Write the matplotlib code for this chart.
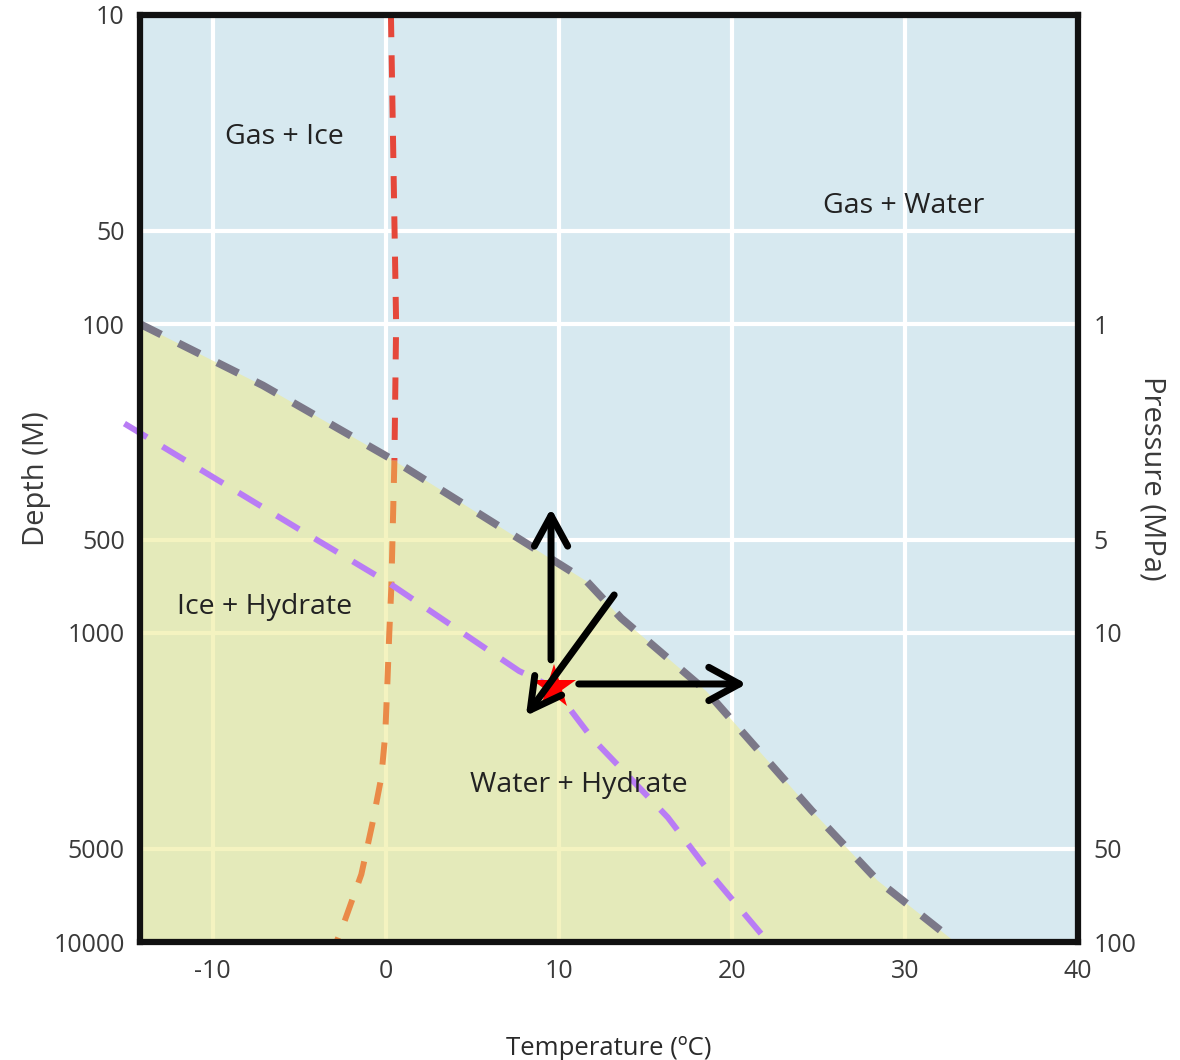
import numpy as np
import matplotlib
matplotlib.use('Agg')
import matplotlib.pyplot as plt

plt.rcParams['font.family'] = ['Open Sans', 'DejaVu Sans']
plt.rcParams['lines.scale_dashes'] = False
plt.rcParams['axes.unicode_minus'] = False

# Hydrate stability boundary (temperature C, depth m)
boundary_temp = [-14.2, -7.1, 0.5, 11.6, 13.6, 18.5, 24.6, 28.4, 32.9]
boundary_depth = [100, 158, 277, 679, 895, 1538, 3750, 6310, 10000]

# Ice melting line: above boundary (red) and below (orange)
ice_temp_upper = [0.3, 0.6, 0.5]
ice_depth_upper = [10, 100, 277]
ice_temp_lower = [0.5, 0.32, 0.2, 0.09, -0.03, -0.26, -0.78, -1.41, -2.56, -2.85]
ice_depth_lower = [277, 716, 1014, 1472, 2133, 2937, 4159, 6040, 9140, 10000]

# Geotherm (purple)
geo_temp = [-15.1, -4.8, 0.2, 7.7, 9.7, 11.9, 16.3, 18.8, 21.7, 22.0]
geo_depth = [210, 469, 690, 1327, 1503, 2183, 3953, 6040, 9420, 10000]

# Current state point and shift arrows (start, end)
star_temp, star_depth = 9.7, 1490
arrows = [
    ((9.55, 1222), (9.55, 395)),
    ((11.15, 1462), (20.85, 1462)),
    ((13.2, 753), (8.1, 1854)),
]

region_labels = ['Gas + Ice', 'Gas + Water', 'Ice + Hydrate', 'Water + Hydrate']
region_temp = [-5.85, 29.9, -7.0, 11.15]
region_depth = [24.8, 41.6, 824, 3094]

x_ticks = [-10, 0, 10, 20, 30, 40]
depth_ticks = [10, 50, 100, 500, 1000, 5000, 10000]
pressure_ticks = [1, 5, 10, 50, 100]

BLUE = '#d7e9f0'
YELLOW = '#edeb96'
TICK_COLOR = '#3a3a3a'

fig = plt.figure(figsize=(11.8, 10.6), dpi=100)
ax = fig.add_axes([140 / 1180, 1 - 942 / 1060, (1078 - 140) / 1180, (942 - 15) / 1060])
ax.set_facecolor(BLUE)
ax.set_yscale('log')
ax.set_xlim(-14.2, 40)
ax.set_ylim(10000, 10)

# grid
ax.set_axisbelow(True)
for t in x_ticks[:-1]:
    ax.axvline(t, color='white', lw=3, zorder=0.5)
for d in depth_ticks[1:-1]:
    ax.axhline(d, color='white', lw=3, zorder=0.5)

# hydrate stability field
ax.fill_betweenx(boundary_depth, -14.2, boundary_temp, color=YELLOW, alpha=0.6,
                 lw=0, zorder=1)

ax.plot(ice_temp_upper, ice_depth_upper, color='#e5473a', lw=4.3,
        dashes=(16, 13), zorder=2)
ax.plot(ice_temp_lower, ice_depth_lower, color='#ea8a48', lw=4.3,
        dashes=(16, 13), zorder=2)
ax.plot(boundary_temp, boundary_depth, color='#7b7888', lw=5.5,
        dashes=(17, 14), zorder=3)
ax.plot(geo_temp, geo_depth, color='#b97cf5', lw=4.3, dashes=(19, 13),
        zorder=3, clip_on=False)

ax.plot(star_temp, star_depth, marker='*', color='red', markersize=33,
        markeredgewidth=0, zorder=4)

for start, end in arrows:
    ax.annotate('', xy=end, xytext=start,
                arrowprops=dict(arrowstyle='->, head_length=0.55, head_width=0.3',
                                lw=5, color='black', mutation_scale=40,
                                shrinkA=0, shrinkB=0),
                zorder=5)

for label, t, d in zip(region_labels, region_temp, region_depth):
    ax.text(t, d, label, ha='center', va='center', fontsize=20.5, color='#222222',
            zorder=6)

for s in ax.spines.values():
    s.set_linewidth(4.5)
    s.set_color('#111111')
    s.set_zorder(7)

ax.set_xticks(x_ticks)
ax.set_yticks(depth_ticks)
ax.set_yticklabels([str(d) for d in depth_ticks])
ax.minorticks_off()
ax.tick_params(length=0, labelsize=18, colors=TICK_COLOR)
ax.tick_params(axis='x', pad=12)
ax.tick_params(axis='y', pad=11)
ax.set_xlabel('Temperature (ºC)', fontsize=18.5, color='#2a2a2a', labelpad=38)
ax.set_ylabel('Depth (M)', fontsize=21, color='#3a3a3a', labelpad=2)

ax2 = ax.twinx()
ax2.set_yscale('log')
ax2.set_ylim(100, 0.1)
ax2.set_yticks(pressure_ticks)
ax2.set_yticklabels([str(p) for p in pressure_ticks])
ax2.minorticks_off()
ax2.tick_params(length=0, labelsize=18, colors=TICK_COLOR, pad=11)
ax2.set_ylabel('Pressure (MPa)', fontsize=21, color='#3a3a3a', rotation=270,
               labelpad=22)
for s in ax2.spines.values():
    s.set_visible(False)

fig.savefig('out.png', dpi=100)
